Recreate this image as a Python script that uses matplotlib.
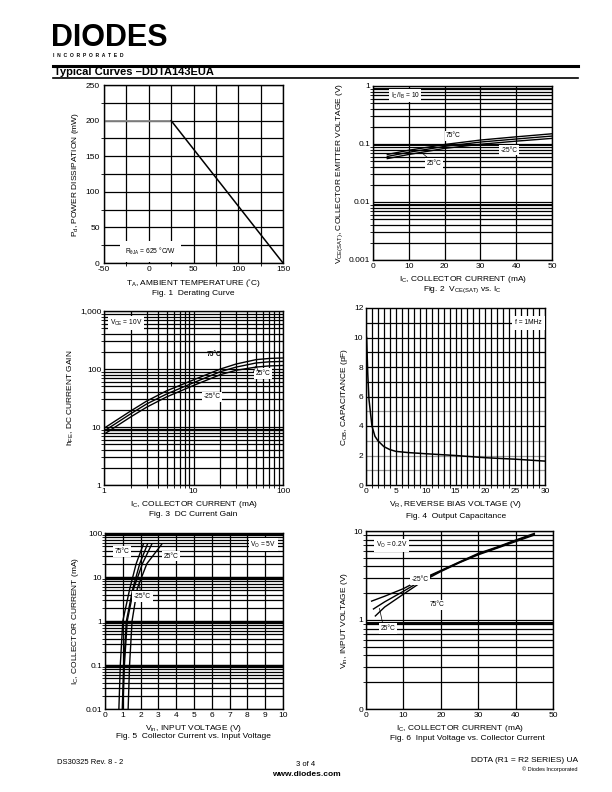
import matplotlib
matplotlib.use("Agg")
import matplotlib.pyplot as plt
from matplotlib.ticker import FixedLocator, NullFormatter

plt.rcParams['font.family'] = ['Liberation Sans', 'DejaVu Sans']
plt.rcParams['mathtext.default'] = 'regular'
plt.rcParams['axes.unicode_minus'] = False

# ---- data ----
# Fig 1 derating
ta = [-50, 25, 150]
pd_mw = [200, 200, 0]

# Fig 2 Vce(sat) vs Ic
ic2 = [4, 10, 20, 30, 40, 50]
vce_75 = [0.066, 0.078, 0.098, 0.117, 0.133, 0.150]
vce_25 = [0.061, 0.072, 0.091, 0.108, 0.122, 0.137]
vce_m25 = [0.056, 0.066, 0.084, 0.099, 0.112, 0.125]

# Fig 3 hFE vs Ic
ic3 = [1, 2, 3, 5, 10, 20, 30, 50, 70, 100]
hfe_75 = [9.5, 19, 28, 42, 65, 100, 122, 145, 152, 155]
hfe_25 = [8.5, 17, 25, 37, 58, 90, 108, 127, 133, 135]
hfe_m25 = [7.5, 15, 22, 33, 52, 80, 95, 108, 113, 115]

# Fig 4 Cob vs Vr
vr = [0.1, 0.3, 0.5, 1, 1.5, 2, 3, 4, 5, 7, 10, 15, 20, 25, 30]
cob = [10, 7.5, 5.8, 4.0, 3.3, 3.0, 2.6, 2.4, 2.28, 2.2, 2.12, 2.0, 1.85, 1.75, 1.62]

# Fig 5 Ic vs Vin
ic5 = [0.01, 0.1, 1, 5.6, 20, 55]
vin5_a = [0.78, 0.86, 1.0, 1.40, 1.75, 2.15]
vin5_b = [0.97, 1.05, 1.2, 1.57, 1.95, 2.38]
vin5_c = [1.0, 1.09, 1.25, 1.62, 2.1, 2.62]
vin5_d = [1.30, 1.38, 1.52, 1.82, 2.35, 3.18]

# Fig 6 Vin vs Ic
ic6_m25 = [1.5, 5, 10, 15, 20, 25, 30, 35, 40, 45]
vin6_m25 = [1.63, 1.85, 2.25, 2.9, 3.6, 4.5, 5.6, 6.6, 7.9, 9.4]
ic6_25 = [2, 5, 10, 15, 20, 25, 30, 35, 40, 45]
vin6_25 = [1.33, 1.6, 2.1, 2.8, 3.55, 4.45, 5.5, 6.5, 7.8, 9.2]
ic6_75 = [2.5, 5, 10, 15, 20, 25, 30, 35, 40, 45]
vin6_75 = [1.11, 1.4, 1.95, 2.7, 3.5, 4.4, 5.4, 6.4, 7.6, 9.0]

W, H = 612, 792
fig = plt.figure(figsize=(6.12, 7.92), dpi=100)


def axes_px(x0, y0, x1, y1):
    return fig.add_axes([x0 / W, 1 - y1 / H, (x1 - x0) / W, (y1 - y0) / H])


def ftext(x, y, s, **kw):
    fig.text(x / W, 1 - y / H, s, **kw)


def style(ax):
    for sp in ax.spines.values():
        sp.set_linewidth(1.0)
    ax.tick_params(length=0, labelsize=6, pad=2)
    ax.grid(True, which='both', color='black', linewidth=0.9)
    ax.set_axisbelow(True)


box = dict(facecolor='white', edgecolor='none', pad=1.2)
fs = 4.8

# ---- header ----
ftext(51, 46.5, 'DIODES', fontsize=22, fontweight='heavy', va='baseline')
ftext(53, 57, 'I  N  C  O  R  P  O  R  A  T  E  D', fontsize=3.6, fontweight='bold', va='baseline')
fig.add_artist(plt.Line2D([53 / W, 578 / W], [1 - 65.5 / H] * 2, color='black', lw=2.2))
fig.add_artist(plt.Line2D([53 / W, 578 / W], [1 - 78 / H] * 2, color='black', lw=1.2))
ftext(54, 72, 'Typical Curves \u2013DDTA143EUA', fontsize=8, fontweight='bold', va='center')

# ---- Fig 1 ----
ax = axes_px(104, 85, 283, 263)
style(ax)
ax.plot(ta[:2], pd_mw[:2], color='#888888', lw=1.3)
ax.plot(ta[1:], pd_mw[1:], color='black', lw=1.1)
ax.set_xlim(-50, 150)
ax.set_ylim(0, 250)
ax.xaxis.set_major_locator(FixedLocator([-50, 0, 50, 100, 150]))
ax.xaxis.set_minor_locator(FixedLocator([-25, 25, 75, 125]))
ax.yaxis.set_major_locator(FixedLocator([0, 50, 100, 150, 200, 250]))
ax.yaxis.set_minor_locator(FixedLocator([25, 75, 125, 175, 225]))
ax.tick_params(axis='y', pad=3)
ax.text(2, 16, 'R$_{\\theta JA}$ = 625 \u00b0C/W', fontsize=fs, ha='center', va='center',
        bbox=dict(facecolor='white', edgecolor='none', pad=3.5))
ax.set_xlabel('T$_A$, AMBIENT TEMPERATURE (\u02daC)', fontsize=6, labelpad=3)
ax.set_ylabel('P$_d$, POWER DISSIPATION (mW)', fontsize=6, labelpad=3)
ftext(193, 293, 'Fig. 1  Derating Curve', fontsize=6, ha='center', va='center')

# ---- Fig 2 ----
ax = axes_px(373, 86, 552, 260)
style(ax)
ax.set_yscale('log')
for v in (vce_75, vce_25, vce_m25):
    ax.plot(ic2, v, color='black', lw=1.0)
ax.set_xlim(0, 50)
ax.set_ylim(0.001, 1)
ax.xaxis.set_major_locator(FixedLocator([0, 10, 20, 30, 40, 50]))
ax.yaxis.set_major_locator(FixedLocator([0.001, 0.01, 0.1, 1]))
ax.set_yticklabels(['0.001', '0.01', '0.1', '1'])
ax.yaxis.set_minor_formatter(NullFormatter())
for yv in (0.009, 0.095, 0.9):
    ax.axhline(yv, color='black', lw=1.4)
ax.text(9, 0.68, 'I$_C$/I$_B$ = 10', fontsize=fs, ha='center', va='center', bbox=box)
ax.text(22.5, 0.138, '75\u00b0C', fontsize=fs, ha='center', va='center', bbox=box)
ax.text(38, 0.078, '-25\u00b0C', fontsize=fs, ha='center', va='center', bbox=box)
ax.text(17, 0.046, '25\u00b0C', fontsize=fs, ha='center', va='center', bbox=box)
ax.plot([16, 13.5], [0.053, 0.072], color='black', lw=0.5)
ax.set_xlabel('I$_C$, COLLECTOR CURRENT (mA)', fontsize=6, labelpad=3)
ax.set_ylabel('V$_{CE(SAT)}$, COLLECTOR EMITTER VOLTAGE (V)', fontsize=6, labelpad=3)
ftext(462, 290, 'Fig. 2  V$_{CE(SAT)}$ vs. I$_C$', fontsize=6, ha='center', va='center')

# ---- Fig 3 ----
ax = axes_px(104, 311, 283, 485)
style(ax)
ax.set_xscale('log')
ax.set_yscale('log')
for h in (hfe_75, hfe_25, hfe_m25):
    ax.plot(ic3, h, color='black', lw=1.0)
ax.set_xlim(1, 100)
ax.set_ylim(1, 1000)
ax.xaxis.set_major_locator(FixedLocator([1, 10, 100]))
ax.set_xticklabels(['1', '10', '100'])
ax.yaxis.set_major_locator(FixedLocator([1, 10, 100, 1000]))
ax.set_yticklabels(['1', '10', '100', '1,000'])
ax.xaxis.set_minor_formatter(NullFormatter())
ax.yaxis.set_minor_formatter(NullFormatter())
ax.axhline(9, color='black', lw=1.6)
ax.text(1.75, 620, 'V$_{CE}$ = 10V', fontsize=fs, ha='center', va='center', bbox=box)
ax.text(17, 175, '75\u00b0C', fontsize=fs, ha='center', va='center', fontweight='bold')
ax.text(60, 84, '25\u00b0C', fontsize=fs, ha='center', va='center', bbox=box)
ax.annotate('', xy=(50, 128), xytext=(50, 95), arrowprops=dict(arrowstyle='->', lw=0.5))
ax.text(16, 33, '-25\u00b0C', fontsize=fs, ha='center', va='center', bbox=box)
ax.set_xlabel('I$_C$, COLLECTOR CURRENT (mA)', fontsize=6, labelpad=3)
ax.set_ylabel('h$_{FE}$, DC CURRENT GAIN', fontsize=6, labelpad=3)
ftext(193, 515, 'Fig. 3  DC Current Gain', fontsize=6, ha='center', va='center')

# ---- Fig 4 ----
ax = axes_px(366, 308, 545, 485)
for sp in ax.spines.values():
    sp.set_linewidth(1.0)
ax.tick_params(length=0, labelsize=6, pad=2)
ax.plot(vr, cob, color='black', lw=1.1)
ax.set_xlim(0, 30)
ax.set_ylim(0, 12)
ax.xaxis.set_major_locator(FixedLocator([0, 5, 10, 15, 20, 25, 30]))
ax.xaxis.set_minor_locator(FixedLocator(list(range(1, 30))))
ax.grid(True, axis='x', which='both', color='black', lw=0.9)
ax.yaxis.set_major_locator(FixedLocator([0, 2, 4, 6, 8, 10, 12]))
for yv in range(1, 12):
    ax.axhline(yv, color='#999999' if yv in (1, 2, 3, 5) else 'black', lw=0.9, zorder=0.5)
ax.set_axisbelow(True)
ax.text(27.2, 11.0, 'f = 1MHz', fontsize=fs, ha='center', va='center',
        bbox=dict(facecolor='white', edgecolor='none', pad=2.5))
ax.set_xlabel('V$_R$, REVERSE BIAS VOLTAGE (V)', fontsize=6, labelpad=3)
ax.set_ylabel('C$_{OB}$, CAPACITANCE (pF)', fontsize=6, labelpad=3)
ftext(456, 516, 'Fig. 4  Output Capacitance', fontsize=6, ha='center', va='center')

# ---- Fig 5 ----
ax = axes_px(105, 533, 283, 709)
style(ax)
ax.set_yscale('log')
for v in (vin5_a, vin5_b, vin5_c, vin5_d):
    ax.plot(v, ic5, color='black', lw=1.0)
ax.set_xlim(0, 10)
ax.set_ylim(0.01, 100)
ax.xaxis.set_major_locator(FixedLocator(list(range(0, 11))))
ax.yaxis.set_major_locator(FixedLocator([0.01, 0.1, 1, 10, 100]))
ax.set_yticklabels(['0.01', '0.1', '1', '10', '100'])
ax.yaxis.set_minor_formatter(NullFormatter())
for yv in (0.1, 1, 10, 100):
    ax.axhline(yv * 0.97, color='black', lw=1.6)
ax.text(8.9, 55, 'V$_O$ = 5V', fontsize=fs, ha='center', va='center', bbox=box)
ax.text(0.95, 38, '75\u00b0C', fontsize=fs, ha='center', va='center', bbox=box)
ax.text(3.7, 30, '25\u00b0C', fontsize=fs, ha='center', va='center', bbox=box)
ax.plot([3.2, 2.25], [30, 30], color='black', lw=0.5)
ax.text(2.1, 3.6, '-25\u00b0C', fontsize=fs, ha='center', va='center', bbox=box)
ax.plot([2.0, 1.9], [4.5, 8], color='black', lw=0.5)
ax.set_xlabel('V$_{in}$, INPUT VOLTAGE (V)', fontsize=6, labelpad=3)
ax.set_ylabel('I$_C$, COLLECTOR CURRENT (mA)', fontsize=6, labelpad=3)
ftext(193, 736, 'Fig. 5  Collector Current vs. Input Voltage', fontsize=6, ha='center', va='center')

# ---- Fig 6 ----
ax = axes_px(366, 531, 553, 709)
style(ax)
ax.set_yscale('log')
ax.plot(ic6_m25, vin6_m25, color='black', lw=1.0)
ax.plot(ic6_25, vin6_25, color='black', lw=1.0)
ax.plot(ic6_75, vin6_75, color='black', lw=1.0)
ax.set_xlim(0, 50)
ax.set_ylim(0.1, 10)
ax.xaxis.set_major_locator(FixedLocator([0, 10, 20, 30, 40, 50]))
ax.yaxis.set_major_locator(FixedLocator([0.1, 1, 10]))
ax.set_yticklabels(['0', '1', '10'])
ax.yaxis.set_minor_formatter(NullFormatter())
ax.axhline(0.93, color='black', lw=1.4)
ax.text(6.8, 6.9, 'V$_O$ = 0.2V', fontsize=fs, ha='center', va='center', bbox=box)
ax.text(14.5, 2.85, '-25\u00b0C', fontsize=fs, ha='center', va='center', bbox=box)
ax.text(19, 1.48, '75\u00b0C', fontsize=fs, ha='center', va='center', bbox=box)
ax.text(6, 0.8, '25\u00b0C', fontsize=fs, ha='center', va='center', bbox=box)
ax.plot([4.6, 3.6], [0.86, 1.35], color='black', lw=0.5)
ax.set_xlabel('I$_C$, COLLECTOR CURRENT (mA)', fontsize=6, labelpad=3)
ax.set_ylabel('V$_{in}$, INPUT VOLTAGE (V)', fontsize=6, labelpad=3)
ftext(467, 739, 'Fig. 6  Input Voltage vs. Collector Current', fontsize=6, ha='center', va='center')

# ---- footer ----
ftext(57, 762, 'DS30325 Rev. 8 - 2', fontsize=5.5, va='center')
ftext(306, 764, '3 of 4', fontsize=5.5, ha='center', va='center')
ftext(306, 774, 'www.diodes.com', fontsize=6, ha='center', va='center', fontweight='bold')
ftext(578, 761, 'DDTA (R1 = R2 SERIES) UA', fontsize=6, ha='right', va='center')
ftext(578, 769, '\u00a9 Diodes Incorporated', fontsize=4, ha='right', va='center')

fig.savefig('out.png', dpi=100)
